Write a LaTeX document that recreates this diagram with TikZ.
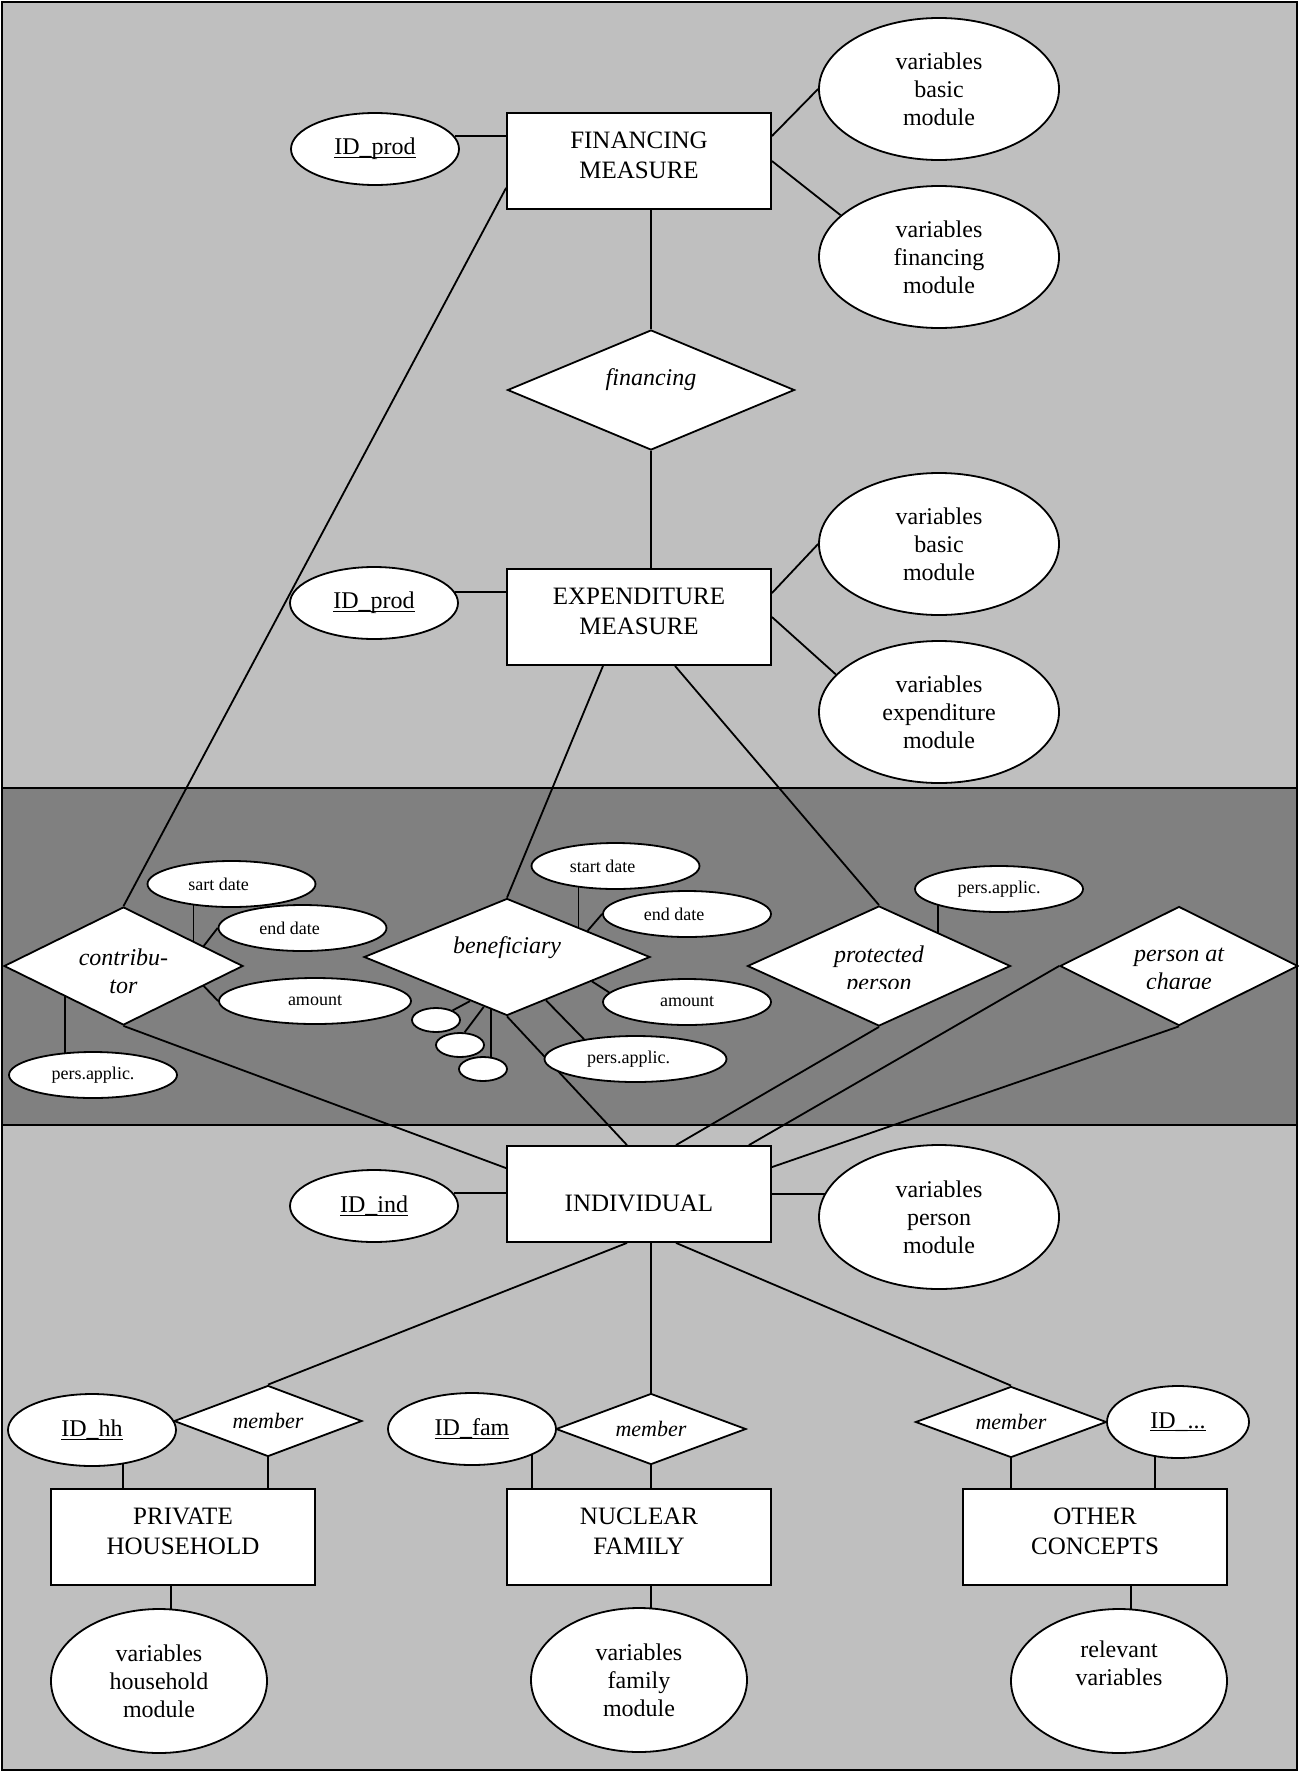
\documentclass[tikz,border=0pt]{standalone}
\usepackage{fontspec}
\setmainfont{Liberation Serif}
\usetikzlibrary{shapes.geometric, calc}
\definecolor{bandlight}{gray}{0.75}
\definecolor{banddark}{gray}{0.5}
\newcommand{\idkey}[1]{\setbox0\hbox{#1}\rlap{\rule[-1.6pt]{\wd0}{0.7pt}}\box0}
\tikzset{
  entity/.style={rectangle, draw=black, fill=white, line width=0.9pt, minimum width=132pt, minimum height=48pt, inner sep=0pt, align=center, font=\fontsize{12.5}{15}\selectfont, text depth=6pt},
  attr_big/.style={ellipse, draw=black, fill=white, line width=0.9pt, minimum width=120pt, minimum height=71pt, inner sep=0pt, align=center, font=\fontsize{12}{14}\selectfont},
  attr_low/.style={attr_big, minimum width=108pt, minimum height=72pt},
  attr_key/.style={ellipse, draw=black, fill=white, line width=0.9pt, minimum width=84pt, minimum height=36pt, inner sep=0pt, font=\fontsize{12}{14}\selectfont},
  attr_small/.style={ellipse, draw=black, fill=white, line width=0.9pt, minimum width=84pt, minimum height=23pt, inner sep=0pt, font=\fontsize{9}{11}\selectfont},
  attr_left/.style={execute at end node={\hspace*{#1}}},
  attr_left/.default=13pt,
  attr_dot/.style={ellipse, draw=black, fill=white, line width=0.9pt, minimum width=24pt, minimum height=12pt, inner sep=0pt},
  relation/.style={diamond, draw=black, fill=white, line width=0.9pt, inner sep=0pt},
  rel_text/.style={align=center, inner sep=0pt, font=\fontsize{12}{14}\selectfont\itshape},
  member_text/.style={rel_text, font=\fontsize{11}{13}\selectfont\itshape},
  link/.style={line width=0.9pt, black},
  band/.style={draw=black, line width=1pt}
}
\pgfdeclarelayer{bandlayer}
\pgfdeclarelayer{linklayer}
\pgfsetlayers{bandlayer,linklayer,main}

\begin{document}
\begin{tikzpicture}[x=0.5pt, y=-0.5pt]
  \useasboundingbox (0,0) rectangle (1299,1772);

  % Background bands
  \begin{pgfonlayer}{bandlayer}
    \draw[band, fill=bandlight] (2,2) rectangle (1297,788);
    \draw[band, fill=banddark] (2,788) rectangle (1297,1125);
    \draw[band, fill=bandlight] (2,1125) rectangle (1297,1770);
  \end{pgfonlayer}

  % Entities
  \node[entity] (fin) at (639,161) {FINANCING\\MEASURE};
  \node[entity] (exp) at (639,617) {EXPENDITURE\\MEASURE};
  \node[entity, text height=17.3pt, text depth=0pt] (ind) at (639,1194) {INDIVIDUAL};
  \node[entity] (hh) at (183,1537) {PRIVATE\\HOUSEHOLD};
  \node[entity] (fam) at (639,1537) {NUCLEAR\\FAMILY};
  \node[entity] (oth) at (1095,1537) {OTHER\\CONCEPTS};

  % Attributes of the measures
  \node[attr_key] (idprodf) at (375,149) {\idkey{ID\_prod}};
  \node[attr_big] (vbasf) at (939,89) {variables\\basic\\module};
  \node[attr_big] (vfin) at (939,257) {variables\\financing\\module};
  \node[attr_key] (idprode) at (374,603) {\idkey{ID\_prod}};
  \node[attr_big] (vbase) at (939,544) {variables\\basic\\module};
  \node[attr_big] (vexp) at (939,712) {variables\\expenditure\\module};

  % Relationship between the measures
  \node[relation, minimum width=143.5pt, minimum height=60pt] (finrel) at (651,390) {};
  \node[rel_text] (finrelT) at ([yshift=5pt]finrel.center) {financing};

  % Roles of the individual
  \node[relation, minimum width=119.5pt, minimum height=59pt] (contrib) at (123.5,966) {};
  \node[rel_text] (contribT) at ([yshift=-2.5pt]contrib.center) {contribu-\\tor};
  \node[attr_small, attr_left] (csart) at (231.5,884) {sart date};
  \node[attr_small, attr_left] (cend) at (302.5,928) {end date};
  \node[attr_small, minimum width=96pt] (camount) at (315,1001) {amount};
  \node[attr_small] (cpers) at (93,1075) {pers.applic.};

  \node[relation, minimum width=143pt, minimum height=58.5pt] (ben) at (507,957) {};
  \node[rel_text] (benT) at ([yshift=4.5pt]ben.center) {beneficiary};
  \node[attr_small, attr_left] (bstart) at (615.5,866) {start date};
  \node[attr_small, attr_left] (bend) at (687,914) {end date};
  \node[attr_small] (bamount) at (687,1002) {amount};
  \node[attr_small, minimum width=91pt, attr_left=7pt] (bpers) at (635.5,1059) {pers.applic.};
  \node[attr_dot] (bdot1) at (436,1020) {};
  \node[attr_dot] (bdot2) at (460,1045) {};
  \node[attr_dot] (bdot3) at (483,1069) {};

  \node[relation, minimum width=131.5pt, minimum height=60pt] (prot) at (879,966) {};
  \node[attr_small] (ppers) at (999,889) {pers.applic.};
  \node[relation, minimum width=119pt, minimum height=59.5pt] (charge) at (1179,966) {};

  % these two labels are cut off at the bottom
  \begin{scope}
    \clip (740,900) rectangle (1299,988);
    \node[rel_text] (protT) at ([yshift=-2.5pt]prot.center) {protected\\person};
    \node[rel_text] (chargeT) at ([yshift=-2.5pt]charge.center) {person at\\charge};
  \end{scope}

  % Individual and its groupings
  \node[attr_key] (idind) at (374,1206) {\idkey{ID\_ind}};
  \node[attr_big, minimum height=72pt] (vper) at (939,1217) {variables\\person\\module};

  \node[relation, minimum width=94pt, minimum height=35.5pt] (memhh) at (268,1421) {};
  \node[member_text] (memhhT) at (memhh.center) {member};
  \node[attr_key] (idhh) at (92,1430) {\idkey{ID\_hh}};
  \node[relation, minimum width=95pt, minimum height=35.5pt] (memfam) at (651,1429) {};
  \node[member_text] (memfamT) at (memfam.center) {member};
  \node[attr_key] (idfam) at (472,1429) {\idkey{ID\_fam}};
  \node[relation, minimum width=95.5pt, minimum height=35.5pt] (memoth) at (1011,1422) {};
  \node[member_text] (memothT) at (memoth.center) {member};
  \node[attr_key, minimum width=71pt] (idoth) at (1178,1422) {\idkey{ID\_...}};

  \node[attr_low] (vhh) at (159,1681) {variables\\household\\module};
  \node[attr_low] (vfam) at (639,1680) {variables\\family\\module};
  \node[attr_low] (vrel) at (1119,1681) {relevant\\variables\\\strut};

  % Connectors
  \begin{pgfonlayer}{linklayer}
    \draw[link] (idprodf.9) -- (idprodf.9 -| fin.west);
    \draw[link] ([yshift=-12pt]fin.north east) -- (vbasf.west);
    \draw[link] (fin.east) -- (vfin.157);
    \draw[link] (finrel.north) -- (finrel.north |- fin.south);
    \draw[link] (finrel.south) -- (finrel.south |- exp.north);
    \draw[link] ([yshift=11pt]fin.south west) -- (contrib.north);
    \draw[link] (idprode.8) -- (idprode.8 -| exp.west);
    \draw[link] ([yshift=-12.5pt]exp.north east) -- (vbase.west);
    \draw[link] (exp.east) -- (vexp.160);
    \draw[link] ([xshift=-18pt]exp.south) -- (ben.north);
    \draw[link] ([xshift=18pt]exp.south) -- (prot.north);

    % contributor
    \draw[link] ([xshift=-19pt]csart.center) -- ([xshift=-19pt]csart.center |- contrib.center);
    \draw[link] (cend.west) -- (contrib.14);
    \draw[link] (camount.west) -- (contrib.-14);
    \draw[link] ([xshift=-14pt]cpers.center) -- ([xshift=-14pt]cpers.center |- contrib.center);

    % beneficiary
    \draw[link] ([xshift=-18.5pt]bstart.center) -- ([xshift=-18.5pt]bstart.center |- ben.center);
    \draw[link] (bend.west) -- (ben.18);
    \draw[link] (bamount.173) -- (ben.-16);
    \draw[link] (bpers.159) -- (ben.-48);
    \draw[link] (bdot1.30) -- (ben.-130);
    \draw[link] (bdot2.70) -- (ben.-115);
    \draw[link] ([xshift=4pt]bdot3.center) -- ([xshift=4pt]bdot3.center |- ben.center);

    % protected person
    \draw[link] ([xshift=-30.5pt]ppers.center) -- ([xshift=-30.5pt]ppers.center |- prot.center);

    % roles to individual
    \draw[link] (contrib.south) -- ([yshift=-11.5pt]ind.north west);
    \draw[link] (ben.south) -- ([xshift=-6pt]ind.north);
    \draw[link] (prot.south) -- ([xshift=18.5pt]ind.north);
    \draw[link] (charge.west) -- ([xshift=-11.5pt]ind.north east);
    \draw[link] (charge.south) -- ([yshift=-11pt]ind.north east);

    % individual
    \draw[link] (idind.9) -- (idind.9 -| ind.west);
    \draw[link] (ind.east) -- (ind.east -| vper.center);
    \draw[link] ([xshift=-6pt]ind.south) -- (memhh.north);
    \draw[link] (memfam.north) -- (memfam.north |- ind.south);
    \draw[link] ([xshift=18.5pt]ind.south) -- (memoth.north);

    % groupings
    \draw[link] ([xshift=15.5pt]idhh.center) -- ([xshift=15.5pt]idhh.center |- hh.north);
    \draw[link] (memhh.south) -- (memhh.south |- hh.north);
    \draw[link] ([xshift=6pt]vhh.center) -- ([xshift=6pt]vhh.center |- hh.south);
    \draw[link] ([xshift=30pt]idfam.center) -- ([xshift=30pt]idfam.center |- fam.north);
    \draw[link] (memfam.south) -- (memfam.south |- fam.north);
    \draw[link] ([xshift=6pt]vfam.center) -- ([xshift=6pt]vfam.center |- fam.south);
    \draw[link] (memoth.south) -- (memoth.south |- oth.north);
    \draw[link] ([xshift=-11.5pt]idoth.center) -- ([xshift=-11.5pt]idoth.center |- oth.north);
    \draw[link] ([xshift=6pt]vrel.center) -- ([xshift=6pt]vrel.center |- oth.south);
  \end{pgfonlayer}
\end{tikzpicture}
\end{document}
